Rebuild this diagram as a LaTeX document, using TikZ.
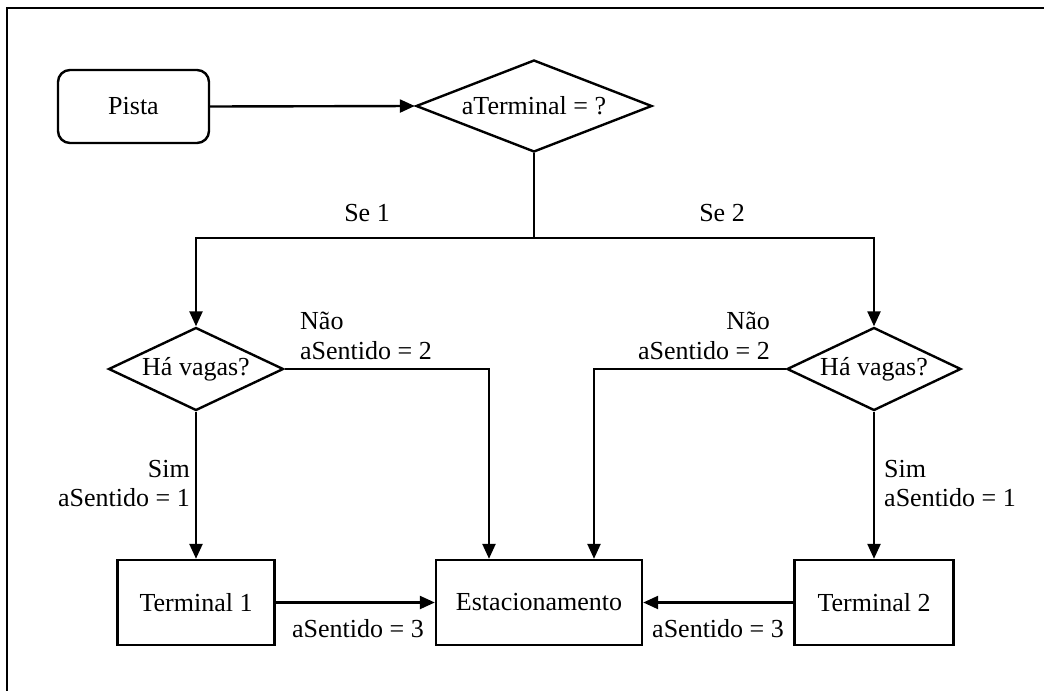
\documentclass[tikz,border=0pt]{standalone}
\usepackage{fontspec}
\setmainfont{Liberation Serif}
\usetikzlibrary{shapes.geometric,arrows.meta}
\begin{document}
\begin{tikzpicture}[x=1pt,y=-1pt,
  every node/.style={font=\fontsize{26}{30}\selectfont, inner sep=0pt},
  ln/.style={line width=2.4pt},
  arr/.style={ln, -{Triangle[length=15pt,width=13pt]}},
  startbox/.style={draw, ln, rounded corners=12pt, minimum width=151pt, minimum height=73pt},
  procbox/.style={draw, ln, minimum height=85pt},
  choice/.style={draw, ln, diamond},
  lbl/.style={}
]
\useasboundingbox (0,0) rectangle (1044,691);
% frame edges
\draw[line width=2.6pt] (1044,8) -- (7,8) -- (7,691);

% nodes
\node[startbox] (pista) at (133.5,106.5) {Pista};
\node[choice, aspect=2.565, minimum width=236pt, minimum height=92pt] (aterm) at (534,106) {aTerminal = ?};
\node[choice, aspect=2.108, minimum width=175pt, minimum height=83pt] (d1) at (196,369) {Há vagas?};
\node[choice, aspect=2.108, minimum width=174pt, minimum height=83pt] (d2) at (874,369) {Há vagas?};
\node[procbox, minimum width=157pt] (t1) at (196,602.5) {Terminal 1};
\node[procbox, minimum width=206pt] (est) at (539,602.5) {Estacionamento};
\node[procbox, minimum width=159pt] (t2) at (874,602.5) {Terminal 2};

% connectors
\coordinate (split) at (534,238);
\draw[arr] (pista.east) -- (aterm.west);
\draw[ln] (aterm.south) -- (split);
\draw[arr] (split) -| (d1.north);
\draw[arr] (split) -| (d2.north);
\draw[arr] (d1.east) -| ([xshift=-50pt]est.north);
\draw[arr] (d2.west) -| ([xshift=55pt]est.north);
\draw[arr] (d1.south) -- (t1.north);
\draw[arr] (d2.south) -- (t2.north);
\draw[arr] (t1.east) -- (est.west);
\draw[arr] (t2.west) -- (est.east);

% labels
\node[lbl, anchor=base] (se1) at (367,221) {Se 1};
\node[lbl, anchor=base] (se2) at (722,221) {Se 2};
\node[lbl, anchor=base west] (nao1) at (300,329) {Não};
\node[lbl, anchor=base west] (sent2a) at (300,359) {aSentido = 2};
\node[lbl, anchor=base east] (nao2) at (770,329) {Não};
\node[lbl, anchor=base east] (sent2b) at (770,359) {aSentido = 2};
\node[lbl, anchor=base east] (sim1) at (190,477) {Sim};
\node[lbl, anchor=base east] (sent1a) at (190,506) {aSentido = 1};
\node[lbl, anchor=base west] (sim2) at (884,477) {Sim};
\node[lbl, anchor=base west] (sent1b) at (884,506) {aSentido = 1};
\node[lbl, anchor=base west] (sent3a) at (292,637) {aSentido = 3};
\node[lbl, anchor=base west] (sent3b) at (652,637) {aSentido = 3};
\end{tikzpicture}
\end{document}
